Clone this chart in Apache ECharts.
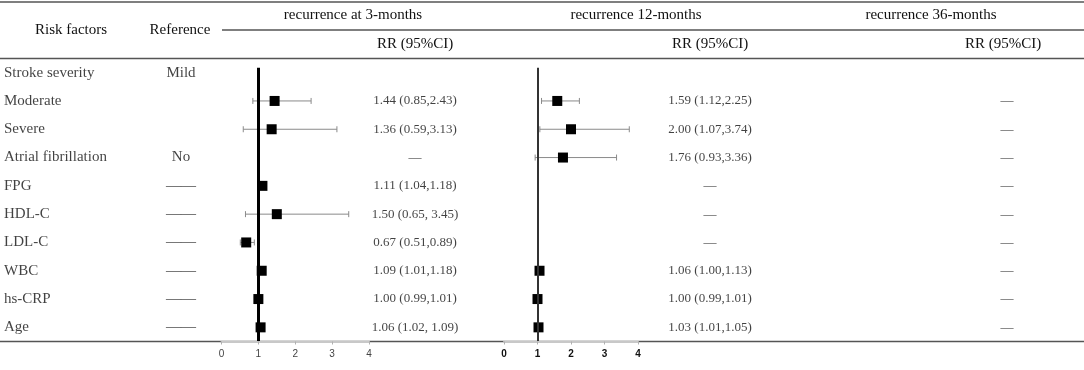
<!DOCTYPE html>
<html>
<head>
<meta charset="utf-8">
<script src="https://cdn.jsdelivr.net/npm/echarts@6/dist/echarts.min.js"></script>
<style>
html, body { margin: 0; padding: 0; background: #fff; }
#main { width: 1084px; height: 370px; }
</style>
</head>
<body>
<div id="main"></div>
<script>
// rows of the table
var factors = ['Stroke severity', 'Moderate', 'Severe', 'Atrial fibrillation', 'FPG', 'HDL-C', 'LDL-C', 'WBC', 'hs-CRP', 'Age'];
var reference = ['Mild', '', '', 'No', '——', '——', '——', '——', '——', '——'];

// recurrence at 3 months: RR and 95% CI (null = not in the model)
var rr3 = [null, 1.44, 1.36, null, 1.11, 1.50, 0.67, 1.09, 1.00, 1.06];
var lo3 = [null, 0.85, 0.59, null, 1.04, 0.65, 0.51, 1.01, 0.99, 1.02];
var hi3 = [null, 2.43, 3.13, null, 1.18, 3.45, 0.89, 1.18, 1.01, 1.09];
var txt3 = ['', '1.44 (0.85,2.43)', '1.36 (0.59,3.13)', '—', '1.11 (1.04,1.18)', '1.50 (0.65, 3.45)',
            '0.67 (0.51,0.89)', '1.09 (1.01,1.18)', '1.00 (0.99,1.01)', '1.06 (1.02, 1.09)'];

// recurrence at 12 months
var rr12 = [null, 1.59, 2.00, 1.76, null, null, null, 1.06, 1.00, 1.03];
var lo12 = [null, 1.12, 1.07, 0.93, null, null, null, 1.00, 0.99, 1.01];
var hi12 = [null, 2.25, 3.74, 3.36, null, null, null, 1.13, 1.01, 1.05];
var txt12 = ['', '1.59 (1.12,2.25)', '2.00 (1.07,3.74)', '1.76 (0.93,3.36)', '—', '—', '—',
             '1.06 (1.00,1.13)', '1.00 (0.99,1.01)', '1.03 (1.01,1.05)'];

// recurrence at 36 months
var txt36 = ['', '—', '—', '—', '—', '—', '—', '—', '—', '—'];

var xTicks = [0, 1, 2, 3, 4];

// layout
var TOP = 58.5, H = 283;
var SERIF = '"Liberation Serif", "Times New Roman", serif';
var RULE = '#555';

var myChart = echarts.init(document.getElementById('main'));

function textSeries(x, arr, size, left) {
	var data = [];
	arr.forEach(function (t, i) {
		if (t) data.push([x, i, t]);
	});
	return {
		type: 'scatter', xAxisIndex: 0, yAxisIndex: 0, symbolSize: 0, silent: true,
		data: data,
		label: {
			show: true,
			position: left ? 'right' : 'inside',
			distance: 0,
			color: '#111',
			fontFamily: SERIF,
			fontSize: size,
			formatter: function (p) { return p.data[2]; }
		}
	};
}

function errRender(params, api) {
	var y = api.value(2);
	var a = api.coord([api.value(0), y]);
	var b = api.coord([api.value(1), y]);
	var c = 3;
	var st = { stroke: '#8a8a8a', lineWidth: 1 };
	return {
		type: 'group',
		children: [
			{ type: 'line', shape: { x1: a[0], y1: a[1], x2: b[0], y2: b[1] }, style: st },
			{ type: 'line', shape: { x1: a[0], y1: a[1] - c, x2: a[0], y2: a[1] + c }, style: st },
			{ type: 'line', shape: { x1: b[0], y1: b[1] - c, x2: b[0], y2: b[1] + c }, style: st }
		]
	};
}

function forestSeries(idx, rr, lo, hi, refColor, refWidth) {
	var pts = [], bars = [];
	rr.forEach(function (v, i) {
		if (v == null) return;
		pts.push([v, i]);
		bars.push([lo[i], hi[i], i]);
	});
	return [{
		type: 'custom', xAxisIndex: idx, yAxisIndex: idx, silent: true,
		renderItem: errRender,
		encode: { x: [0, 1], y: 2 },
		data: bars,
		z: 2
	}, {
		type: 'scatter', xAxisIndex: idx, yAxisIndex: idx, silent: true,
		symbol: 'rect', symbolSize: 10,
		itemStyle: { color: '#000', opacity: 1 },
		data: pts,
		z: 4,
		markLine: {
			silent: true, symbol: ['none', 'none'], label: { show: false },
			lineStyle: { color: refColor, width: refWidth, type: 'solid', opacity: 1 },
			data: [[{ coord: [1, -0.17] }, { coord: [1, 9.5] }]]
		}
	}];
}

function forestX(idx, bold, color) {
	return {
		gridIndex: idx, type: 'value', position: 'bottom',
		min: xTicks[0], max: xTicks[xTicks.length - 1], interval: 1, z: 10,
		axisLine: { show: true, onZero: false, lineStyle: { color: '#c8c8c8', width: 2 } },
		axisTick: { show: true, length: 3, lineStyle: { color: '#b0b0b0' } },
		splitLine: { show: false },
		axisLabel: { color: color, fontSize: 10, fontWeight: bold ? 'bold' : 'normal', fontFamily: '"Liberation Sans", Arial, sans-serif', margin: 8 }
	};
}

function rowY(idx) {
	return { gridIndex: idx, type: 'value', min: -0.5, max: 9.5, inverse: true, show: false };
}

function hText(str, x, y, align) {
	return {
		type: 'text', z: 5,
		style: {
			text: str, x: x, y: y, fill: '#111',
			font: '15px ' + SERIF,
			textAlign: align || 'center', textVerticalAlign: 'middle',
			align: align || 'center', verticalAlign: 'middle'
		}
	};
}

function rule(x1, y, x2) {
	return { type: 'line', z: 1, shape: { x1: x1, y1: y, x2: x2, y2: y }, style: { stroke: RULE, lineWidth: 1.5 } };
}

var option = {
	animation: false,
	backgroundColor: '#fff',
	grid: [
		{ left: 0, width: 1084, top: TOP, height: H },
		{ left: 221.5, width: 147.5, top: TOP, height: H },
		{ left: 504, width: 134, top: TOP, height: H }
	],
	xAxis: [
		{ gridIndex: 0, type: 'value', min: 0, max: 1084, show: false },
		forestX(1, false, '#444'),
		forestX(2, true, '#111')
	],
	yAxis: [rowY(0), rowY(1), rowY(2)],
	graphic: [
		rule(0, 2, 1084),
		rule(222, 30, 1084),
		rule(0, 58.5, 1084),
		rule(0, TOP + H, 1084),
		hText('Risk factors', 71, 30),
		hText('Reference', 180, 30),
		hText('recurrence at 3-months', 353, 15),
		hText('recurrence 12-months', 636, 15),
		hText('recurrence 36-months', 931, 15),
		hText('RR (95%CI)', 415, 44),
		hText('RR (95%CI)', 710, 44),
		hText('RR (95%CI)', 1003, 44)
	],
	series: [
		textSeries(4, factors, 15, true),
		textSeries(181, reference, 15, false),
		textSeries(415, txt3, 13, false),
		textSeries(710, txt12, 13, false),
		textSeries(1007, txt36, 13, false)
	].concat(forestSeries(1, rr3, lo3, hi3, '#000', 3))
	 .concat(forestSeries(2, rr12, lo12, hi12, '#333', 2))
};

myChart.setOption(option);
</script>
</body>
</html>
